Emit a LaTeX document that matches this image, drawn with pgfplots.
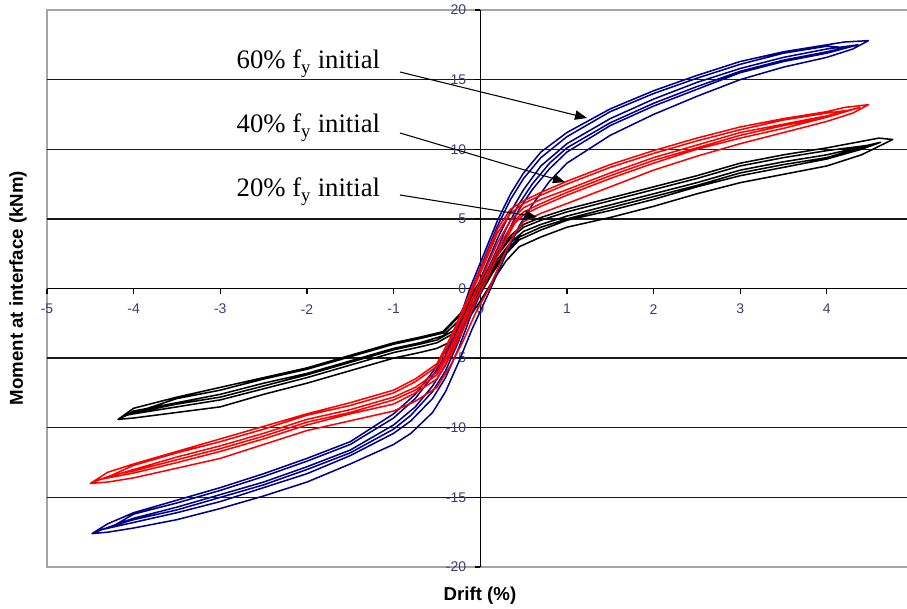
\documentclass[border=0pt]{standalone}
\usepackage{pgfplots}
\pgfplotsset{compat=1.18}
\usepackage{fontspec}
\setmainfont{Liberation Serif}
\setsansfont{Liberation Sans}
\usetikzlibrary{arrows.meta}

\definecolor{navyline}{RGB}{0,0,140}
\definecolor{ticklab}{RGB}{60,60,120}
\definecolor{framegray}{RGB}{165,165,165}

\begin{document}
\begin{tikzpicture}
\useasboundingbox (-35.25pt,-30.75pt) rectangle (645pt,425.25pt);
\begin{axis}[at={(0,0)}, anchor=south west, scale only axis,
  width=645pt, height=417.75pt,
  xmin=-5, xmax=4.925, ymin=-20, ymax=20,
  hide axis, clip=false]

% frame, grid and axes
\draw[framegray, line width=1.3pt] (axis cs:4.925,20) -- (axis cs:-5,20) -- (axis cs:-5,-20) -- (axis cs:4.925,-20);
\pgfplotsinvokeforeach{-15,-10,-5,5,10,15}{
  \draw[black!90, line width=1.1pt] (axis cs:-5,#1) -- (axis cs:4.925,#1);
}
\draw[black, line width=1.1pt] (axis cs:-5,0) -- (axis cs:4.925,0);
\draw[black, line width=1.1pt] (axis cs:0,-20) -- (axis cs:0,20);
\pgfplotsinvokeforeach{-5,-4,-3,-2,-1,0,1,2,3,4}{
  \draw[black, line width=0.9pt] (axis cs:#1,0) -- ++(0pt,-3.75pt);
  \node[font=\sffamily\fontsize{10.5}{12}\selectfont, text=ticklab] at (axis cs:#1,0) [yshift=-15.5pt] {#1};
}
\pgfplotsinvokeforeach{-20,-15,-10,-5,0,5,10,15,20}{
  \draw[black, line width=0.9pt] (axis cs:0,#1) -- ++(-3.75pt,0pt);
  \node[font=\sffamily\fontsize{10.5}{12}\selectfont, text=ticklab, anchor=east] at (axis cs:0,#1) [xshift=-7pt] {#1};
}

% 20% fy initial
\addplot[black, line width=1.15pt, line join=round] coordinates {
(-4.18,-9.4) (-4.0,-9.3) (-3.5,-8.9) (-3.0,-8.5) (-2.5,-7.6) (-2.0,-6.8) (-1.5,-5.9) (-1.0,-5.0) (-0.7,-4.6) (-0.5,-4.3) (-0.3,-3.7) (-0.15,-2.3) (0.0,-0.9) (0.15,0.6) (0.3,2.0) (0.45,3.0) (0.7,3.7) (1.0,4.4) (1.5,5.1) (2.0,5.9) (2.5,6.8) (3.0,7.6) (3.5,8.2) (4.0,8.8) (4.4,9.6) (4.76,10.7)
(4.6,10.8) (4.0,10.1) (3.5,9.6) (3.0,9.0) (2.5,8.1) (2.0,7.3) (1.5,6.5) (1.0,5.7) (0.7,5.1) (0.5,4.6) (0.35,3.8) (0.2,2.6) (0.05,1.0) (-0.1,-0.4) (-0.23,-1.8) (-0.43,-3.1) (-0.7,-3.5) (-1.0,-3.9) (-1.5,-4.8) (-2.0,-5.7) (-2.5,-6.4) (-3.0,-7.1) (-3.5,-7.8) (-4.0,-8.6) (-4.18,-9.4)
(-4.08,-9.1) (-4.0,-9.0) (-3.5,-8.5) (-3.0,-8.0) (-2.5,-7.2) (-2.0,-6.4) (-1.5,-5.5) (-1.0,-4.6) (-0.7,-4.2) (-0.5,-3.9) (-0.3,-3.2) (-0.15,-1.8) (0.0,-0.4) (0.15,1.2) (0.3,2.5) (0.45,3.5) (0.7,4.2) (1.0,4.9) (1.5,5.6) (2.0,6.4) (2.5,7.3) (3.0,8.1) (3.5,8.7) (4.0,9.3) (4.4,10.0) (4.62,10.5)
(4.0,9.6) (3.5,9.1) (3.0,8.5) (2.5,7.6) (2.0,6.8) (1.5,6.0) (1.0,5.2) (0.7,4.6) (0.5,4.1) (0.35,3.3) (0.2,2.1) (0.05,0.5) (-0.1,-0.8) (-0.23,-2.2) (-0.43,-3.4) (-0.7,-3.9) (-1.0,-4.3) (-1.5,-5.2) (-2.0,-6.1) (-2.5,-6.8) (-3.0,-7.6) (-3.5,-8.2) (-4.0,-8.8) (-4.08,-9.1)
(-3.98,-8.9) (-3.5,-8.3) (-3.0,-7.8) (-2.5,-7.0) (-2.0,-6.2) (-1.5,-5.3) (-1.0,-4.4) (-0.7,-4.0) (-0.5,-3.7) (-0.3,-3.0) (-0.15,-1.6) (0.0,-0.2) (0.15,1.4) (0.3,2.7) (0.45,3.7) (0.7,4.4) (1.0,5.0) (1.5,5.8) (2.0,6.6) (2.5,7.4) (3.0,8.3) (3.5,8.9) (4.0,9.4) (4.5,10.3)
(4.0,9.9) (3.5,9.4) (3.0,8.8) (2.5,7.9) (2.0,7.1) (1.5,6.3) (1.0,5.5) (0.7,4.9) (0.5,4.4) (0.35,3.6) (0.2,2.4) (0.05,0.8) (-0.1,-0.6) (-0.23,-1.9) (-0.43,-3.2) (-0.7,-3.6) (-1.0,-4.0) (-1.5,-4.9) (-2.0,-5.8) (-2.5,-6.5) (-3.0,-7.3) (-3.5,-7.9) (-3.98,-8.9)
};

% 60% fy initial
\addplot[navyline, line width=1.15pt, line join=round] coordinates {
(-4.48,-17.6) (-4.3,-17.5) (-4.0,-17.2) (-3.5,-16.6) (-3.0,-15.8) (-2.5,-14.9) (-2.0,-13.9) (-1.5,-12.6) (-1.0,-11.2) (-0.8,-10.4) (-0.55,-8.9) (-0.4,-7.4) (-0.25,-5.3) (-0.1,-3.0) (0.12,0.0) (0.3,2.5) (0.45,4.5) (0.6,6.0) (0.8,7.7) (1.0,9.0) (1.5,11.0) (2.0,12.5) (2.5,13.8) (3.0,15.0) (3.5,15.9) (4.0,16.6) (4.3,17.2) (4.48,17.8)
(4.2,17.7) (4.0,17.5) (3.5,17.0) (3.0,16.3) (2.5,15.3) (2.0,14.2) (1.5,12.9) (1.0,11.2) (0.7,9.8) (0.5,8.3) (0.35,6.8) (0.2,4.9) (0.05,2.6) (-0.12,0.0) (-0.25,-2.4) (-0.4,-4.5) (-0.55,-6.0) (-0.75,-7.6) (-1.0,-9.0) (-1.5,-11.0) (-2.0,-12.2) (-2.5,-13.3) (-3.0,-14.3) (-3.5,-15.2) (-4.0,-16.1) (-4.3,-16.9) (-4.48,-17.6)
(-4.36,-17.3) (-4.0,-16.8) (-3.5,-16.1) (-3.0,-15.3) (-2.5,-14.3) (-2.0,-13.3) (-1.5,-12.0) (-1.0,-10.4) (-0.8,-9.5) (-0.55,-7.9) (-0.4,-6.4) (-0.25,-4.3) (-0.1,-1.8) (0.12,1.3) (0.3,3.8) (0.45,5.7) (0.6,7.1) (0.8,8.6) (1.0,9.8) (1.5,11.7) (2.0,13.1) (2.5,14.3) (3.0,15.5) (3.5,16.3) (4.0,16.9) (4.36,17.5)
(4.0,17.2) (3.5,16.6) (3.0,15.8) (2.5,14.8) (2.0,13.6) (1.5,12.2) (1.0,10.4) (0.7,8.8) (0.5,7.1) (0.35,5.5) (0.2,3.6) (0.05,1.4) (-0.12,-1.2) (-0.25,-3.4) (-0.4,-5.5) (-0.55,-7.0) (-0.75,-8.5) (-1.0,-9.8) (-1.5,-11.6) (-2.0,-12.8) (-2.5,-13.9) (-3.0,-14.8) (-3.5,-15.7) (-4.0,-16.5) (-4.36,-17.3)
(-4.22,-17.0) (-4.0,-16.6) (-3.5,-15.9) (-3.0,-15.0) (-2.5,-14.1) (-2.0,-13.0) (-1.5,-11.8) (-1.0,-10.1) (-0.8,-9.1) (-0.55,-7.4) (-0.4,-5.9) (-0.25,-3.8) (-0.1,-1.3) (0.12,1.8) (0.3,4.3) (0.45,6.1) (0.6,7.5) (0.8,9.0) (1.0,10.1) (1.5,11.9) (2.0,13.3) (2.5,14.5) (3.0,15.6) (3.5,16.4) (4.0,17.0) (4.22,17.3)
(4.0,17.4) (3.5,16.9) (3.0,16.1) (2.5,15.1) (2.0,14.0) (1.5,12.7) (1.0,10.9) (0.7,9.4) (0.5,7.9) (0.35,6.4) (0.2,4.5) (0.05,2.2) (-0.12,-0.4) (-0.25,-2.8) (-0.4,-4.8) (-0.55,-6.3) (-0.75,-7.9) (-1.0,-9.3) (-1.5,-11.2) (-2.0,-12.4) (-2.5,-13.5) (-3.0,-14.5) (-3.5,-15.4) (-4.0,-16.2) (-4.22,-17.0)
};

% 40% fy initial
\addplot[red, line width=1.15pt, line join=round] coordinates {
(-4.5,-14.0) (-4.3,-13.9) (-4.0,-13.6) (-3.5,-12.9) (-3.0,-12.2) (-2.5,-11.2) (-2.0,-10.2) (-1.5,-9.5) (-1.0,-8.8) (-0.75,-8.1) (-0.5,-7.1) (-0.35,-5.6) (-0.2,-3.8) (-0.05,-1.7) (0.1,0.0) (0.25,2.1) (0.4,4.0) (0.5,4.8) (0.7,5.4) (1.0,6.1) (1.5,7.3) (2.0,8.5) (2.5,9.5) (3.0,10.4) (3.5,11.2) (4.0,12.0) (4.3,12.6) (4.48,13.2)
(4.2,13.0) (4.0,12.7) (3.5,12.2) (3.0,11.6) (2.5,10.8) (2.0,9.9) (1.5,8.9) (1.0,7.7) (0.7,6.9) (0.5,6.3) (0.35,5.7) (0.2,4.3) (0.05,2.1) (-0.1,0.0) (-0.2,-1.5) (-0.35,-3.6) (-0.5,-5.4) (-0.75,-6.5) (-1.0,-7.3) (-1.5,-8.2) (-2.0,-9.0) (-2.5,-9.9) (-3.0,-10.8) (-3.5,-11.7) (-4.0,-12.6) (-4.3,-13.2) (-4.5,-14.0)
(-4.38,-13.7) (-4.0,-13.25) (-3.5,-12.5) (-3.0,-11.7) (-2.5,-10.8) (-2.0,-9.8) (-1.5,-9.0) (-1.0,-8.3) (-0.75,-7.5) (-0.5,-6.5) (-0.35,-4.9) (-0.2,-3.0) (-0.05,-0.9) (0.1,1.0) (0.25,3.0) (0.4,4.7) (0.5,5.3) (0.7,5.9) (1.0,6.7) (1.5,7.9) (2.0,9.0) (2.5,10.0) (3.0,10.8) (3.5,11.5) (4.0,12.3) (4.38,13.0)
(4.0,12.4) (3.5,11.8) (3.0,11.2) (2.5,10.3) (2.0,9.4) (1.5,8.3) (1.0,7.1) (0.7,6.4) (0.5,5.8) (0.35,4.9) (0.2,3.3) (0.05,1.2) (-0.1,-0.8) (-0.2,-2.3) (-0.35,-4.3) (-0.5,-6.0) (-0.75,-7.1) (-1.0,-7.8) (-1.5,-8.7) (-2.0,-9.4) (-2.5,-10.4) (-3.0,-11.3) (-3.5,-12.1) (-4.0,-13.0) (-4.38,-13.7)
(-4.25,-13.4) (-4.0,-13.1) (-3.5,-12.3) (-3.0,-11.5) (-2.5,-10.6) (-2.0,-9.6) (-1.5,-8.9) (-1.0,-8.0) (-0.75,-7.3) (-0.5,-6.2) (-0.35,-4.6) (-0.2,-2.6) (-0.05,-0.5) (0.1,1.4) (0.25,3.4) (0.4,4.9) (0.5,5.5) (0.7,6.1) (1.0,6.9) (1.5,8.1) (2.0,9.2) (2.5,10.1) (3.0,11.0) (3.5,11.7) (4.0,12.3) (4.25,12.8)
(4.0,12.6) (3.5,12.1) (3.0,11.4) (2.5,10.6) (2.0,9.7) (1.5,8.7) (1.0,7.5) (0.7,6.7) (0.5,6.1) (0.35,5.4) (0.2,4.0) (0.05,1.8) (-0.1,-0.3) (-0.2,-1.8) (-0.35,-3.8) (-0.5,-5.6) (-0.75,-6.7) (-1.0,-7.5) (-1.5,-8.4) (-2.0,-9.1) (-2.5,-10.1) (-3.0,-11.0) (-3.5,-11.8) (-4.0,-12.7) (-4.25,-13.4)
};
\end{axis}

% axis titles
\node[rotate=90, font=\sffamily\bfseries\fontsize{14}{16}\selectfont] at (-21.75pt,209.25pt) {Moment at interface (kNm)};
\node[font=\sffamily\bfseries\fontsize{14}{16}\selectfont] at (324.75pt,-21.75pt) {Drift (\%)};

% annotations
\node[anchor=base west, font=\fontsize{20}{24}\selectfont] at (138.75pt,373.5pt) {60\% f\textsubscript{y} initial};
\node[anchor=base west, font=\fontsize{20}{24}\selectfont] at (138.75pt,325.5pt) {40\% f\textsubscript{y} initial};
\node[anchor=base west, font=\fontsize{20}{24}\selectfont] at (138.75pt,277.5pt) {20\% f\textsubscript{y} initial};
\draw[black, line width=0.8pt, -{Triangle[length=9pt,width=7pt]}] (264.75pt,371.25pt) -- (405pt,336.75pt);
\draw[black, line width=0.8pt, -{Triangle[length=9pt,width=7pt]}] (264.75pt,325.5pt) -- (388.5pt,288.75pt);
\draw[black, line width=0.8pt, -{Triangle[length=9pt,width=7pt]}] (264.75pt,279pt) -- (367.5pt,262.5pt);
\end{tikzpicture}
\end{document}
